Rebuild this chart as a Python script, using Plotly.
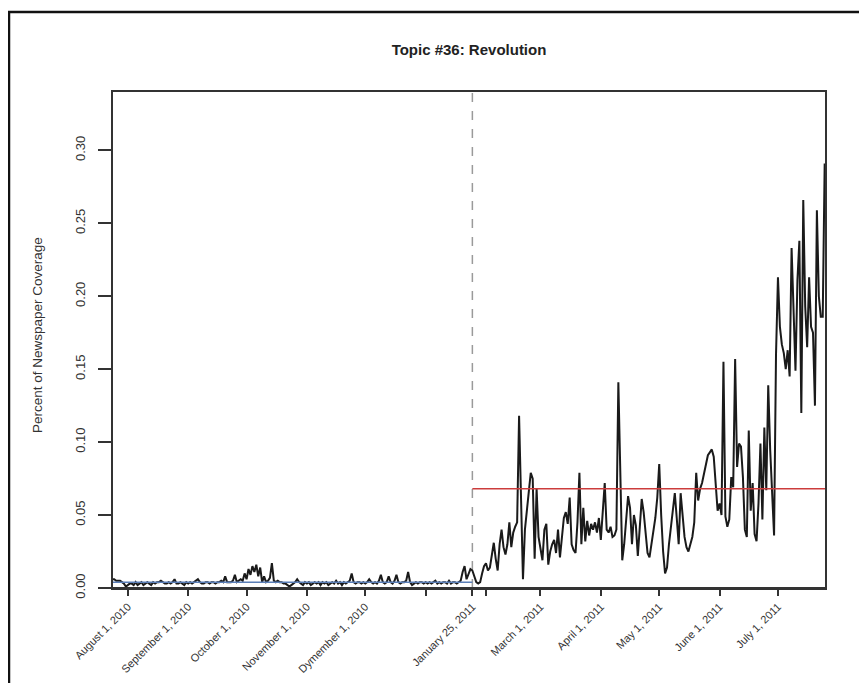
import pandas as pd
import plotly.graph_objects as go

# ---------------- data ----------------
pre_start = "2010-07-24"          # first day of the series
post_start = "2011-01-25"         # January 25, 2011 (dashed line)

pre_values = [
    0.006, 0.006, 0.005, 0.005, 0.005, 0.004, 0.003, 0.001, 0.002, 0.003,
    0.003, 0.002, 0.004, 0.002, 0.003, 0.004, 0.002, 0.003, 0.004, 0.003,
    0.002, 0.004, 0.003, 0.004, 0.004, 0.005, 0.004, 0.003, 0.003, 0.004,
    0.003, 0.004, 0.006, 0.003, 0.003, 0.004, 0.003, 0.002, 0.004, 0.003,
    0.004, 0.003, 0.004, 0.005, 0.006, 0.004, 0.003, 0.003, 0.004, 0.004,
    0.003, 0.004, 0.004, 0.003, 0.004, 0.004, 0.005, 0.004, 0.008, 0.004,
    0.004, 0.004, 0.005, 0.009, 0.004, 0.005, 0.006, 0.005, 0.010, 0.006,
    0.013, 0.009, 0.015, 0.011, 0.016, 0.008, 0.014, 0.004, 0.008, 0.004,
    0.005, 0.007, 0.017, 0.005, 0.004, 0.005, 0.004, 0.004, 0.003, 0.003,
    0.002, 0.001, 0.002, 0.003, 0.004, 0.006, 0.004, 0.003, 0.002, 0.004,
    0.003, 0.004, 0.002, 0.003, 0.004, 0.003, 0.004, 0.002, 0.004, 0.003,
    0.004, 0.002, 0.003, 0.004, 0.003, 0.005, 0.003, 0.004, 0.002, 0.004,
    0.003, 0.004, 0.005, 0.010, 0.004, 0.003, 0.004, 0.004, 0.003, 0.004,
    0.003, 0.004, 0.006, 0.004, 0.003, 0.004, 0.003, 0.005, 0.009, 0.004,
    0.003, 0.004, 0.008, 0.004, 0.003, 0.005, 0.009, 0.004, 0.003, 0.004,
    0.004, 0.005, 0.011, 0.004, 0.002, 0.003, 0.004, 0.003, 0.004, 0.004,
    0.003, 0.004, 0.003, 0.004, 0.003, 0.004, 0.005, 0.003, 0.004, 0.003,
    0.004, 0.004, 0.003, 0.005, 0.003, 0.004, 0.004, 0.003, 0.004, 0.005,
    0.011, 0.015, 0.006, 0.009, 0.013,
]

post_values = [
    0.012, 0.008, 0.004, 0.003, 0.004, 0.010, 0.015, 0.017, 0.012, 0.014,
    0.022, 0.031, 0.020, 0.012, 0.030, 0.040, 0.028, 0.023, 0.030, 0.045,
    0.028, 0.038, 0.042, 0.045, 0.118, 0.065, 0.006, 0.040, 0.055, 0.066,
    0.079, 0.075, 0.020, 0.068, 0.035, 0.028, 0.019, 0.040, 0.044, 0.016,
    0.025, 0.030, 0.033, 0.024, 0.040, 0.021, 0.035, 0.048, 0.052, 0.044,
    0.062, 0.030, 0.026, 0.024, 0.045, 0.079, 0.030, 0.055, 0.032, 0.046,
    0.036, 0.044, 0.040, 0.045, 0.038, 0.048, 0.033, 0.056, 0.072, 0.040,
    0.038, 0.042, 0.035, 0.036, 0.040, 0.141, 0.070, 0.019, 0.030, 0.048,
    0.063, 0.055, 0.030, 0.050, 0.043, 0.022, 0.045, 0.061, 0.052, 0.035,
    0.024, 0.021, 0.030, 0.042, 0.048, 0.062, 0.085, 0.050, 0.025, 0.010,
    0.014, 0.030, 0.042, 0.055, 0.065, 0.048, 0.030, 0.065, 0.050, 0.035,
    0.028, 0.025, 0.030, 0.035, 0.045, 0.079, 0.060, 0.068, 0.072, 0.078,
    0.085, 0.091, 0.093, 0.095, 0.090, 0.070, 0.053, 0.058, 0.050, 0.155,
    0.049, 0.042, 0.047, 0.076, 0.069, 0.157, 0.083, 0.099, 0.097, 0.076,
    0.040, 0.035, 0.108, 0.053, 0.072, 0.037, 0.032, 0.058, 0.099, 0.047,
    0.110, 0.067, 0.139, 0.095, 0.060, 0.036, 0.160, 0.213, 0.179, 0.167,
    0.161, 0.150, 0.163, 0.145, 0.233, 0.188, 0.149, 0.211, 0.238, 0.120,
    0.266, 0.193, 0.165, 0.213, 0.179, 0.175, 0.125, 0.259, 0.200, 0.186,
    0.186, 0.291,
]

pre_mean = 0.004
post_mean = 0.068

tick_dates = ["2010-08-01", "2010-09-01", "2010-10-01", "2010-11-01", "2010-12-01",
              "2011-01-01", "2011-01-25", "2011-02-01", "2011-03-01", "2011-04-01",
              "2011-05-01", "2011-06-01", "2011-07-01"]
tick_labels = ["August 1, 2010", "September 1, 2010", "October 1, 2010",
               "November 1, 2010", "Dymember 1, 2010", "", "January 25, 2011", "",
               "March 1, 2011", "April 1, 2011", "May 1, 2011", "June 1, 2011",
               "July 1, 2011"]

y_ticks = [0.00, 0.05, 0.10, 0.15, 0.20, 0.25, 0.30]

title_text = "Topic #36: Revolution"
y_title = "Percent of Newspaper Coverage"

# ---------------- build ----------------
pre_dates = pd.date_range(pre_start, periods=len(pre_values), freq="D")
post_dates = pd.date_range(post_start, periods=len(post_values), freq="D")
all_dates = list(pre_dates) + list(post_dates)
all_values = pre_values + post_values

OFF = 8                       # browser page margin around the figure
W, H = 867 - OFF, 683 - OFF
# plot box in page pixels
L, R, T, B = 113, 825, 92, 588


def px_x(p):
    return (p - L) / (R - L)


def px_y(p):
    return (B - p) / (B - T)


font_family = "Liberation Sans, Arial, Helvetica, sans-serif"

fig = go.Figure()
fig.add_trace(go.Scatter(x=all_dates, y=all_values, mode="lines",
                         line=dict(color="#1a1a1a", width=2), showlegend=False,
                         hoverinfo="skip"))
# group means
fig.add_trace(go.Scatter(x=[pre_dates[0], post_dates[0]], y=[pre_mean, pre_mean],
                         mode="lines", line=dict(color="#5b7fb8", width=1.5),
                         showlegend=False, hoverinfo="skip"))
fig.add_trace(go.Scatter(x=[post_dates[0], post_dates[-1] + pd.Timedelta(days=1)],
                         y=[post_mean, post_mean], mode="lines",
                         line=dict(color="#cc3c3c", width=1.6),
                         showlegend=False, hoverinfo="skip"))

shapes = [
    # dashed event line
    dict(type="line", xref="x", yref="paper", x0=post_start, x1=post_start,
         y0=0, y1=1, line=dict(color="#9a9a9a", width=1.5, dash="dash"), layer="below"),
    # x axis line extends a bit left of the box
    dict(type="line", xref="paper", yref="paper", x0=px_x(100), x1=1, y0=0, y1=0,
         line=dict(color="#333333", width=2)),
    # outer frame
    dict(type="rect", xref="paper", yref="paper", x0=px_x(9), x1=px_x(900),
         y0=px_y(720), y1=px_y(12), line=dict(color="#111111", width=2.5),
         fillcolor="rgba(0,0,0,0)"),
]

fig.update_layout(
    template="none",
    width=W, height=H,
    autosize=False,
    margin=dict(l=L - OFF, r=867 - R, t=T - OFF, b=683 - B, autoexpand=False),
    paper_bgcolor="white", plot_bgcolor="white",
    font=dict(family=font_family, color="#222222"),
    title=dict(text="<b>" + title_text + "</b>", x=0.5, xref="paper", xanchor="center",
               y=1 - (50 - OFF) / H, yref="container", yanchor="middle",
               font=dict(size=15, color="#222222", family=font_family)),
    shapes=shapes,
    annotations=[dict(text=y_title, xref="paper", yref="paper", x=px_x(37), y=px_y(335),
                      textangle=-90, showarrow=False, xanchor="center", yanchor="middle",
                      font=dict(size=13.5, color="#333333"))],
)

fig.update_xaxes(
    type="date", automargin=False,
    range=["2010-07-24 09:00", "2011-07-25 04:00"],
    tickmode="array", tickvals=tick_dates, ticktext=tick_labels,
    tickangle=-45, tickfont=dict(size=11, color="#333333"),
    ticks="outside", ticklen=6, tickwidth=1.5, tickcolor="#333333",
    showline=True, linecolor="#333333", linewidth=2, mirror=True,
    showgrid=False, zeroline=False,
)
fig.update_yaxes(
    automargin=False,
    range=[0, 0.34],
    tickmode="array", tickvals=y_ticks, ticktext=[f"{v:.2f}" for v in y_ticks],
    tickangle=-90, tickfont=dict(size=13, color="#333333"),
    ticks="outside", ticklen=13, tickwidth=1.5, tickcolor="#333333",
    ticklabelstandoff=8,
    showline=True, linecolor="#333333", linewidth=2, mirror=True,
    showgrid=False, zeroline=False,
)

fig.write_html("out.html")
